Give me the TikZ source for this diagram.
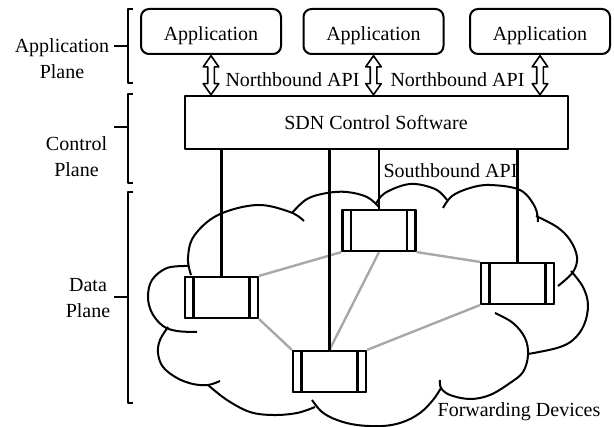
\documentclass[tikz,border=0pt]{standalone}
\usepackage{fontspec}
\setmainfont{Liberation Serif}
\usetikzlibrary{shapes.arrows,calc}
\definecolor{linkgray}{RGB}{168,168,168}
\begin{document}
\begin{tikzpicture}[x=1pt,y=-1pt,line join=round,
  txt/.style={font=\fontsize{20}{26}\selectfont, inner sep=0pt},
  lbl/.style={txt, align=center, anchor=base},
  appbox/.style={draw, line width=2pt, rounded corners=8pt, minimum width=140pt,
    minimum height=45pt, inner sep=0pt, text height=18pt, text depth=0pt,
    font=\fontsize{20}{24}\selectfont},
  ctrlbox/.style={draw, line width=2pt, minimum width=383pt, minimum height=53pt,
    inner sep=0pt, text height=14pt, text depth=0pt, font=\fontsize{20}{24}\selectfont},
  dblarrow/.style={draw, line width=1.6pt, fill=white, shape=double arrow,
    shape border rotate=90, inner sep=2.5pt, double arrow head extend=4.5pt,
    double arrow tip angle=70, minimum height=39pt},
  switchbox/.style={draw, fill=white, line width=2.2pt, minimum width=73pt,
    minimum height=41pt, inner sep=0pt,
    path picture={
      \draw[line width=2.2pt]
        ([xshift=8.5pt]path picture bounding box.north west) --
        ([xshift=8.5pt]path picture bounding box.south west)
        ([xshift=-8.5pt]path picture bounding box.north east) --
        ([xshift=-8.5pt]path picture bounding box.south east);}},
  cloudline/.style={line width=2pt},
  link/.style={draw=linkgray, line width=2.4pt},
  ctl/.style={line width=2.6pt},
  brace/.style={line width=2pt}
]
\useasboundingbox (0,0) rectangle (614,427);

% cloud
\begin{scope}[cloudline]
\draw plot[smooth, tension=0.6] coordinates {(191,275) (188,258) (194,236) (218,215) (257,205) (290,212) (304,221)};
\draw plot[smooth, tension=0.6] coordinates {(292,213) (307,199) (327,193) (347,192) (367,197) (379,207)};
\draw plot[smooth, tension=0.6] coordinates {(376,204) (385,193) (410,184) (435,189) (447,200)};
\draw plot[smooth, tension=0.6] coordinates {(443,208) (452,196) (470,188) (490,185) (520,190) (535,207) (538,222)};
\draw plot[smooth, tension=0.6] coordinates {(536,216) (557,227) (570,240) (577,257) (573,272) (558,286)};
\draw plot[smooth, tension=0.6] coordinates {(571,271) (583,287) (588,305) (584,325) (573,340) (557,348) (528,354)};
\draw plot[smooth, tension=0.6] coordinates {(495,313) (513,323) (525,338) (528,355) (523,372) (510,383) (490,395) (470,399) (450,395) (441,388) (440,380)};
\draw plot[smooth, tension=0.6] coordinates {(441,388) (433,400) (420,413) (403,422) (383,426) (357,425) (337,420) (322,412) (312,400)};
\draw plot[smooth, tension=0.6] coordinates {(208,385) (227,400) (250,412) (273,415) (297,413) (315,407)};
\draw plot[smooth, tension=0.6] coordinates {(168,327) (160,340) (158,353) (163,367) (177,378) (193,384) (208,385) (220,381)};
\draw plot[smooth, tension=0.6] coordinates {(188,266) (167,268) (152,280) (148,297) (152,313) (163,326) (177,331) (197,332)};
\end{scope}

% application boxes and controller
\node[appbox] (a1) at (211,31.5) {Application};
\node[appbox] (a2) at (373.5,31.5) {Application};
\node[appbox] (a3) at (540,31.5) {Application};
\node[ctrlbox] (sdn) at (376,123) {SDN Control Software};

% northbound arrows
\foreach \a in {a1,a2,a3}
  \node[dblarrow] (\a-arr) at ($(\a.south)!0.5!(\a.south |- sdn.north)$) {};

% switches
\node[switchbox] (s1) at (221.5,297.5) {};
\node[switchbox] (s2) at (379,230.5) {};
\node[switchbox] (s3) at (517.5,283.5) {};
\node[switchbox] (s4) at (329.5,371.5) {};

% links between switches
\draw[link] (s1.north east) -- (s2.south west);
\draw[link] (s1.south east) -- (s4.north west);
\draw[link] (s2.south) -- (s4.north);
\draw[link] (s2.south east) -- (s3.north west);
\draw[link] (s4.north east) -- (s3.south west);

% southbound connections
\foreach \s in {s1,s2,s3,s4}
  \draw[ctl] (sdn.south -| \s.north) -- (\s.north);

% redraw switch boxes on top of the links
\foreach \s/\p in {s1/{(221.5,297.5)},s2/{(379,230.5)},s3/{(517.5,283.5)},s4/{(329.5,371.5)}}
  \node[switchbox] at \p {};

% labels
\node[txt, anchor=base] (nb1) at (292.5,87) {Northbound API};
\node[txt, anchor=base] (nb2) at (457.5,87) {Northbound API};
\node[txt, anchor=base] (sb) at (450.5,178) {Southbound API};
\node[txt, anchor=base] (fd) at (519,417) {Forwarding Devices};

% plane labels and brackets
\node[lbl] (lapp) at (62,79) {Application\\Plane};
\node[lbl] (lctl) at (76.5,177) {Control\\Plane};
\node[lbl] (ldat) at (88,318) {Data\\Plane};

\draw[brace] (133,9) -- (128,9) -- (128,83) -- (133,83);
\draw[brace] (114,46) -- (128,46);
\draw[brace] (133,94) -- (128,94) -- (128,183) -- (133,183);
\draw[brace] (114,127) -- (128,127);
\draw[brace] (133,192) -- (128,192) -- (128,403) -- (133,403);
\draw[brace] (114,297) -- (128,297);
\end{tikzpicture}
\end{document}
